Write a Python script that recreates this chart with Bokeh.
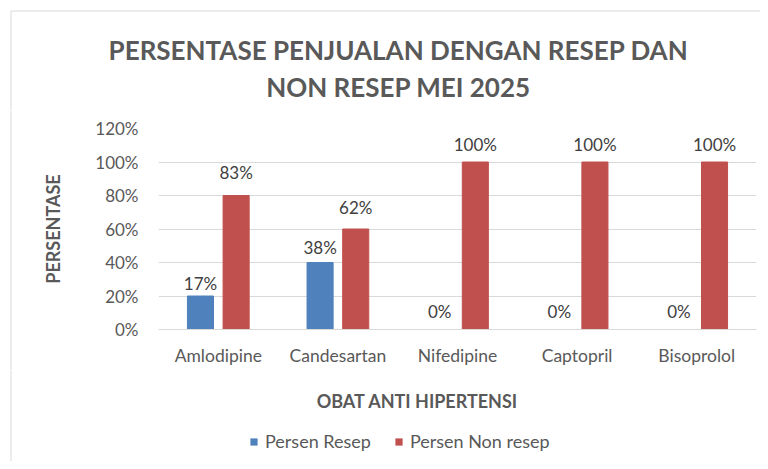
from bokeh.plotting import figure
from bokeh.layouts import column, row
from bokeh.models import (FactorRange, Range1d, Legend, LegendItem,
                          FixedTicker, ColumnDataSource)
from bokeh.transform import dodge
from bokeh.core.properties import value
from bokeh.embed import file_html
from bokeh.resources import INLINE

# ---- data ----
categories = ["Amlodipine", "Candesartan", "Nifedipine", "Captopril", "Bisoprolol"]
persen_resep = [20, 40, 0, 0, 0]              # bar heights as drawn
persen_non_resep = [80, 60, 100, 100, 100]
label_resep = [17, 38, 0, 0, 0]               # data-label values
label_non_resep = [83, 62, 100, 100, 100]
y_ticks = [0, 20, 40, 60, 80, 100, 120]
y_tick_labels = ["0%", "20%", "40%", "60%", "80%", "100%", "120%"]
series_names = ["Persen Resep", "Persen Non resep"]
title_lines = ["PERSENTASE PENJUALAN DENGAN RESEP DAN", "NON RESEP MEI 2025"]
x_title = "OBAT ANTI HIPERTENSI"
y_title = "PERSENTASE"

BLUE = "#4F81BD"
RED = "#C0504D"
GRAY = "#595959"
BORDER = "#d9d9d9"
FONT = "Lato"
W_TOTAL = 760
STRIP = 12
BX = 10.5  # chart-area border position (px)


def blank(width, height):
    f = figure(width=width, height=height, x_range=Range1d(0, width),
               y_range=Range1d(height, 0), x_axis_type=None, y_axis_type=None,
               output_backend="svg", toolbar_location=None, min_border=0,
               frame_align=False)
    f.outline_line_color = None
    f.xgrid.grid_line_color = None
    f.ygrid.grid_line_color = None
    return f


# ---- title panel ----
top = blank(W_TOTAL, 110)
top.segment(x0=[BX, BX], y0=[BX, BX], x1=[W_TOTAL, BX], y1=[BX, 110],
            line_color=BORDER, line_width=1)
top.text(x=[398, 398], y=[49, 86], text=title_lines, text_align="center",
         text_baseline="middle", text_font=value(FONT), text_font_size="26px",
         text_font_style="bold", text_color=GRAY)

# ---- main chart ----
src = ColumnDataSource(dict(
    cat=categories,
    resep=persen_resep,
    nonresep=persen_non_resep,
    lab_r=label_resep,
    lab_n=label_non_resep,
    txt_r=[f"{v}%" for v in label_resep],
    txt_n=[f"{v}%" for v in label_non_resep],
))

p = figure(frame_width=598, frame_height=201,
           x_range=FactorRange(*categories, range_padding=0),
           y_range=Range1d(0, 120), output_backend="svg", toolbar_location=None,
           min_border_left=158 - STRIP, min_border_right=4,
           min_border_top=18, min_border_bottom=41, frame_align=False)
p.outline_line_color = None

p.yaxis.ticker = FixedTicker(ticks=y_ticks)
p.yaxis.major_label_overrides = {t: l for t, l in zip(y_ticks, y_tick_labels)}
p.yaxis.axis_line_color = None
p.yaxis.major_tick_line_color = None
p.yaxis.minor_tick_line_color = None
p.yaxis.major_label_standoff = 14
p.yaxis.major_label_text_font = FONT
p.yaxis.major_label_text_font_size = "17px"
p.yaxis.major_label_text_color = GRAY
p.yaxis.axis_label = y_title
p.yaxis.axis_label_text_font = FONT
p.yaxis.axis_label_text_font_size = "18px"
p.yaxis.axis_label_text_font_style = "bold"
p.yaxis.axis_label_text_color = GRAY
p.yaxis.axis_label_standoff = 28

p.xaxis.axis_line_color = BORDER
p.xaxis.major_tick_line_color = None
p.xaxis.minor_tick_line_color = None
p.xaxis.major_label_standoff = 9
p.xaxis.major_label_text_font = FONT
p.xaxis.major_label_text_font_size = "17.5px"
p.xaxis.major_label_text_color = GRAY

p.xgrid.grid_line_color = None
p.ygrid.grid_line_color = BORDER
p.ygrid.grid_line_width = 1

OFF = 0.149
W = 0.218
p.vbar(x=dodge("cat", -OFF, range=p.x_range), top="resep", width=W,
       source=src, fill_color=BLUE, line_color=BLUE)
p.vbar(x=dodge("cat", OFF, range=p.x_range), top="nonresep", width=W,
       source=src, fill_color=RED, line_color=RED)

for xoff, ycol, tcol in [(-OFF, "lab_r", "txt_r"), (OFF, "lab_n", "txt_n")]:
    p.text(x=dodge("cat", xoff, range=p.x_range), y=ycol, text=tcol, source=src,
           text_align="center", text_baseline="middle", y_offset=-18,
           text_font=value(FONT), text_font_size="17px", text_color="#404040")

MAIN_H = 18 + 201 + 41
strip = blank(STRIP, MAIN_H)
strip.segment(x0=[BX], y0=[0], x1=[BX], y1=[MAIN_H], line_color=BORDER, line_width=1)

# ---- x title + legend panel ----
bot = blank(W_TOTAL, 91)
bot.segment(x0=[BX], y0=[0], x1=[BX], y1=[91], line_color=BORDER, line_width=1)
bot.text(x=[417], y=[30], text=[x_title], text_align="center",
         text_baseline="middle", text_font=value(FONT), text_font_size="18px",
         text_font_style="bold", text_color=GRAY)
# legend swatches: zero-size samples, so only the legend shows them
k1 = bot.vbar(x=[400], top=[0], bottom=[0], width=0, fill_color=BLUE, line_color=None)
k2 = bot.vbar(x=[400], top=[0], bottom=[0], width=0, fill_color=RED, line_color=None)
legend = Legend(items=[LegendItem(label=series_names[0], renderers=[k1]),
                       LegendItem(label=series_names[1], renderers=[k2])],
                location=(249, 9), orientation="horizontal",
                glyph_width=9, glyph_height=9, label_standoff=7, spacing=23,
                padding=0, margin=0, border_line_color=None,
                background_fill_alpha=0, label_text_font=FONT,
                label_text_font_size="18px", label_text_color=GRAY)
bot.add_layout(legend, "center")

layout = column(top, row(strip, p, spacing=0), bot, spacing=0)
open("out.html", "w").write(file_html(layout, INLINE))
